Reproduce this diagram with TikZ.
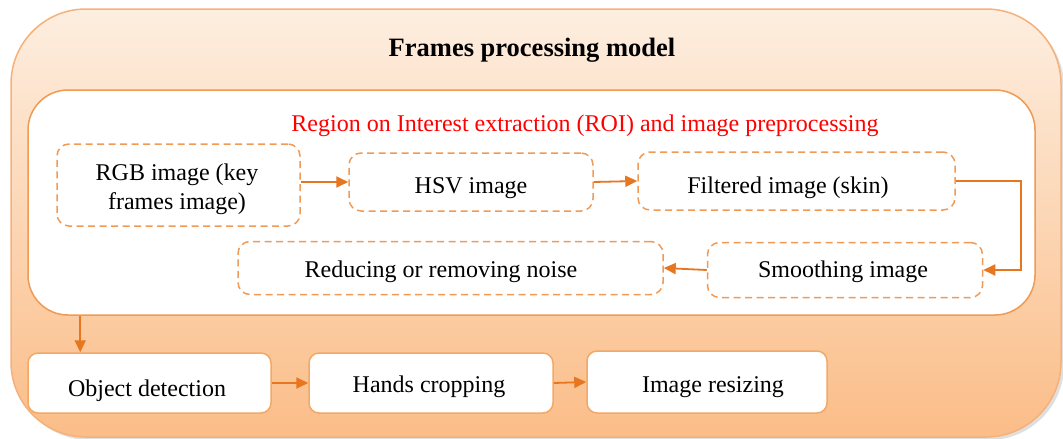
\documentclass[tikz,border=0pt]{standalone}
\usepackage{fontspec}
\setmainfont{Liberation Serif}
\usetikzlibrary{arrows.meta,shadows}
\definecolor{outerb}{HTML}{F5B17A}
\definecolor{outertop}{HTML}{FDEEE0}
\definecolor{outerbot}{HTML}{FBBD88}
\definecolor{innerb}{HTML}{EF9A55}
\definecolor{dashb}{HTML}{F09A55}
\definecolor{solidb}{HTML}{F3A866}
\definecolor{arrc}{HTML}{E6761F}
\definecolor{roired}{HTML}{FF0000}
\tikzset{
  outerbox/.style={draw=outerb, line width=1.5pt, rounded corners=75pt, top color=outertop, bottom color=outerbot,
    drop shadow={shadow xshift=3pt, shadow yshift=-3pt, opacity=0.25}},
  innerbox/.style={draw=innerb, line width=1.5pt, rounded corners=40pt, fill=white},
  dashbox/.style={draw=dashb, line width=1.5pt, rounded corners=12pt, dash pattern=on 7pt off 4.5pt, fill=white},
  solidbox/.style={draw=solidb, line width=1.5pt, rounded corners=10pt, fill=white},
  txt/.style={anchor=base, inner sep=0pt, font=\fontsize{24}{29}\selectfont, align=center},
  arr/.style={draw=arrc, line width=1.8pt, -{Triangle[length=12pt,width=11pt]}},
}
\begin{document}
\begin{tikzpicture}[x=1pt,y=-1pt]
\useasboundingbox (0,0) rectangle (1063,439);
\node[outerbox, minimum width=1050pt, minimum height=428pt] (frame) at (536,223) {};
\node[anchor=base, inner sep=0pt, font=\bfseries\fontsize{26.5}{30}\selectfont] (title) at (532,56) {Frames processing model};
\node[innerbox, minimum width=1007pt, minimum height=225pt] (roi) at (531.5,202.5) {};
\node[txt, text=roired] (roititle) at (585,131) {Region on Interest extraction (ROI) and image preprocessing};

\node[dashbox, minimum width=243pt, minimum height=82pt] (rgb) at (178.5,185) {};
\node[txt] (rgbt1) at (177,180) {RGB image (key};
\node[txt] (rgbt2) at (177,209) {frames image)};
\node[dashbox, minimum width=244pt, minimum height=58pt] (hsv) at (471,182) {};
\node[txt] (hsvt) at (471,193) {HSV image};
\node[dashbox, minimum width=317pt, minimum height=58pt] (filt) at (796.5,181) {};
\node[txt] (filtt) at (788,193) {Filtered image (skin)};
\node[dashbox, minimum width=275pt, minimum height=55pt] (smooth) at (845,270) {};
\node[txt] (smootht) at (843,277) {Smoothing image};
\node[dashbox, minimum width=425pt, minimum height=53pt] (reduce) at (450.5,268) {};
\node[txt] (reducet) at (441,277) {Reducing or removing noise};

\node[solidbox, minimum width=243pt, minimum height=60pt] (obj) at (149.5,383) {};
\node[txt] (objt) at (147,396) {Object detection};
\node[solidbox, minimum width=244pt, minimum height=60pt] (hands) at (431,383) {};
\node[txt] (handst) at (429,392) {Hands cropping};
\node[solidbox, minimum width=240pt, minimum height=62pt] (resize) at (707,382) {};
\node[txt] (resizet) at (713,392) {Image resizing};

\draw[arr] (rgb.east |- hsv.west) -- (hsv.west);
\draw[arr] (hsv.east) -- (filt.west);
\draw[arr] (filt.east) -- ++(65,0) |- (smooth.east);
\draw[arr] (smooth.west) -- (reduce.east);
\path (obj.north west) ++(53,0) coordinate (objin);
\draw[arr] (roi.south -| objin) -- (objin);
\draw[arr] (obj.east) -- (hands.west);
\draw[arr] (hands.east) -- (resize.west);
\end{tikzpicture}
\end{document}
